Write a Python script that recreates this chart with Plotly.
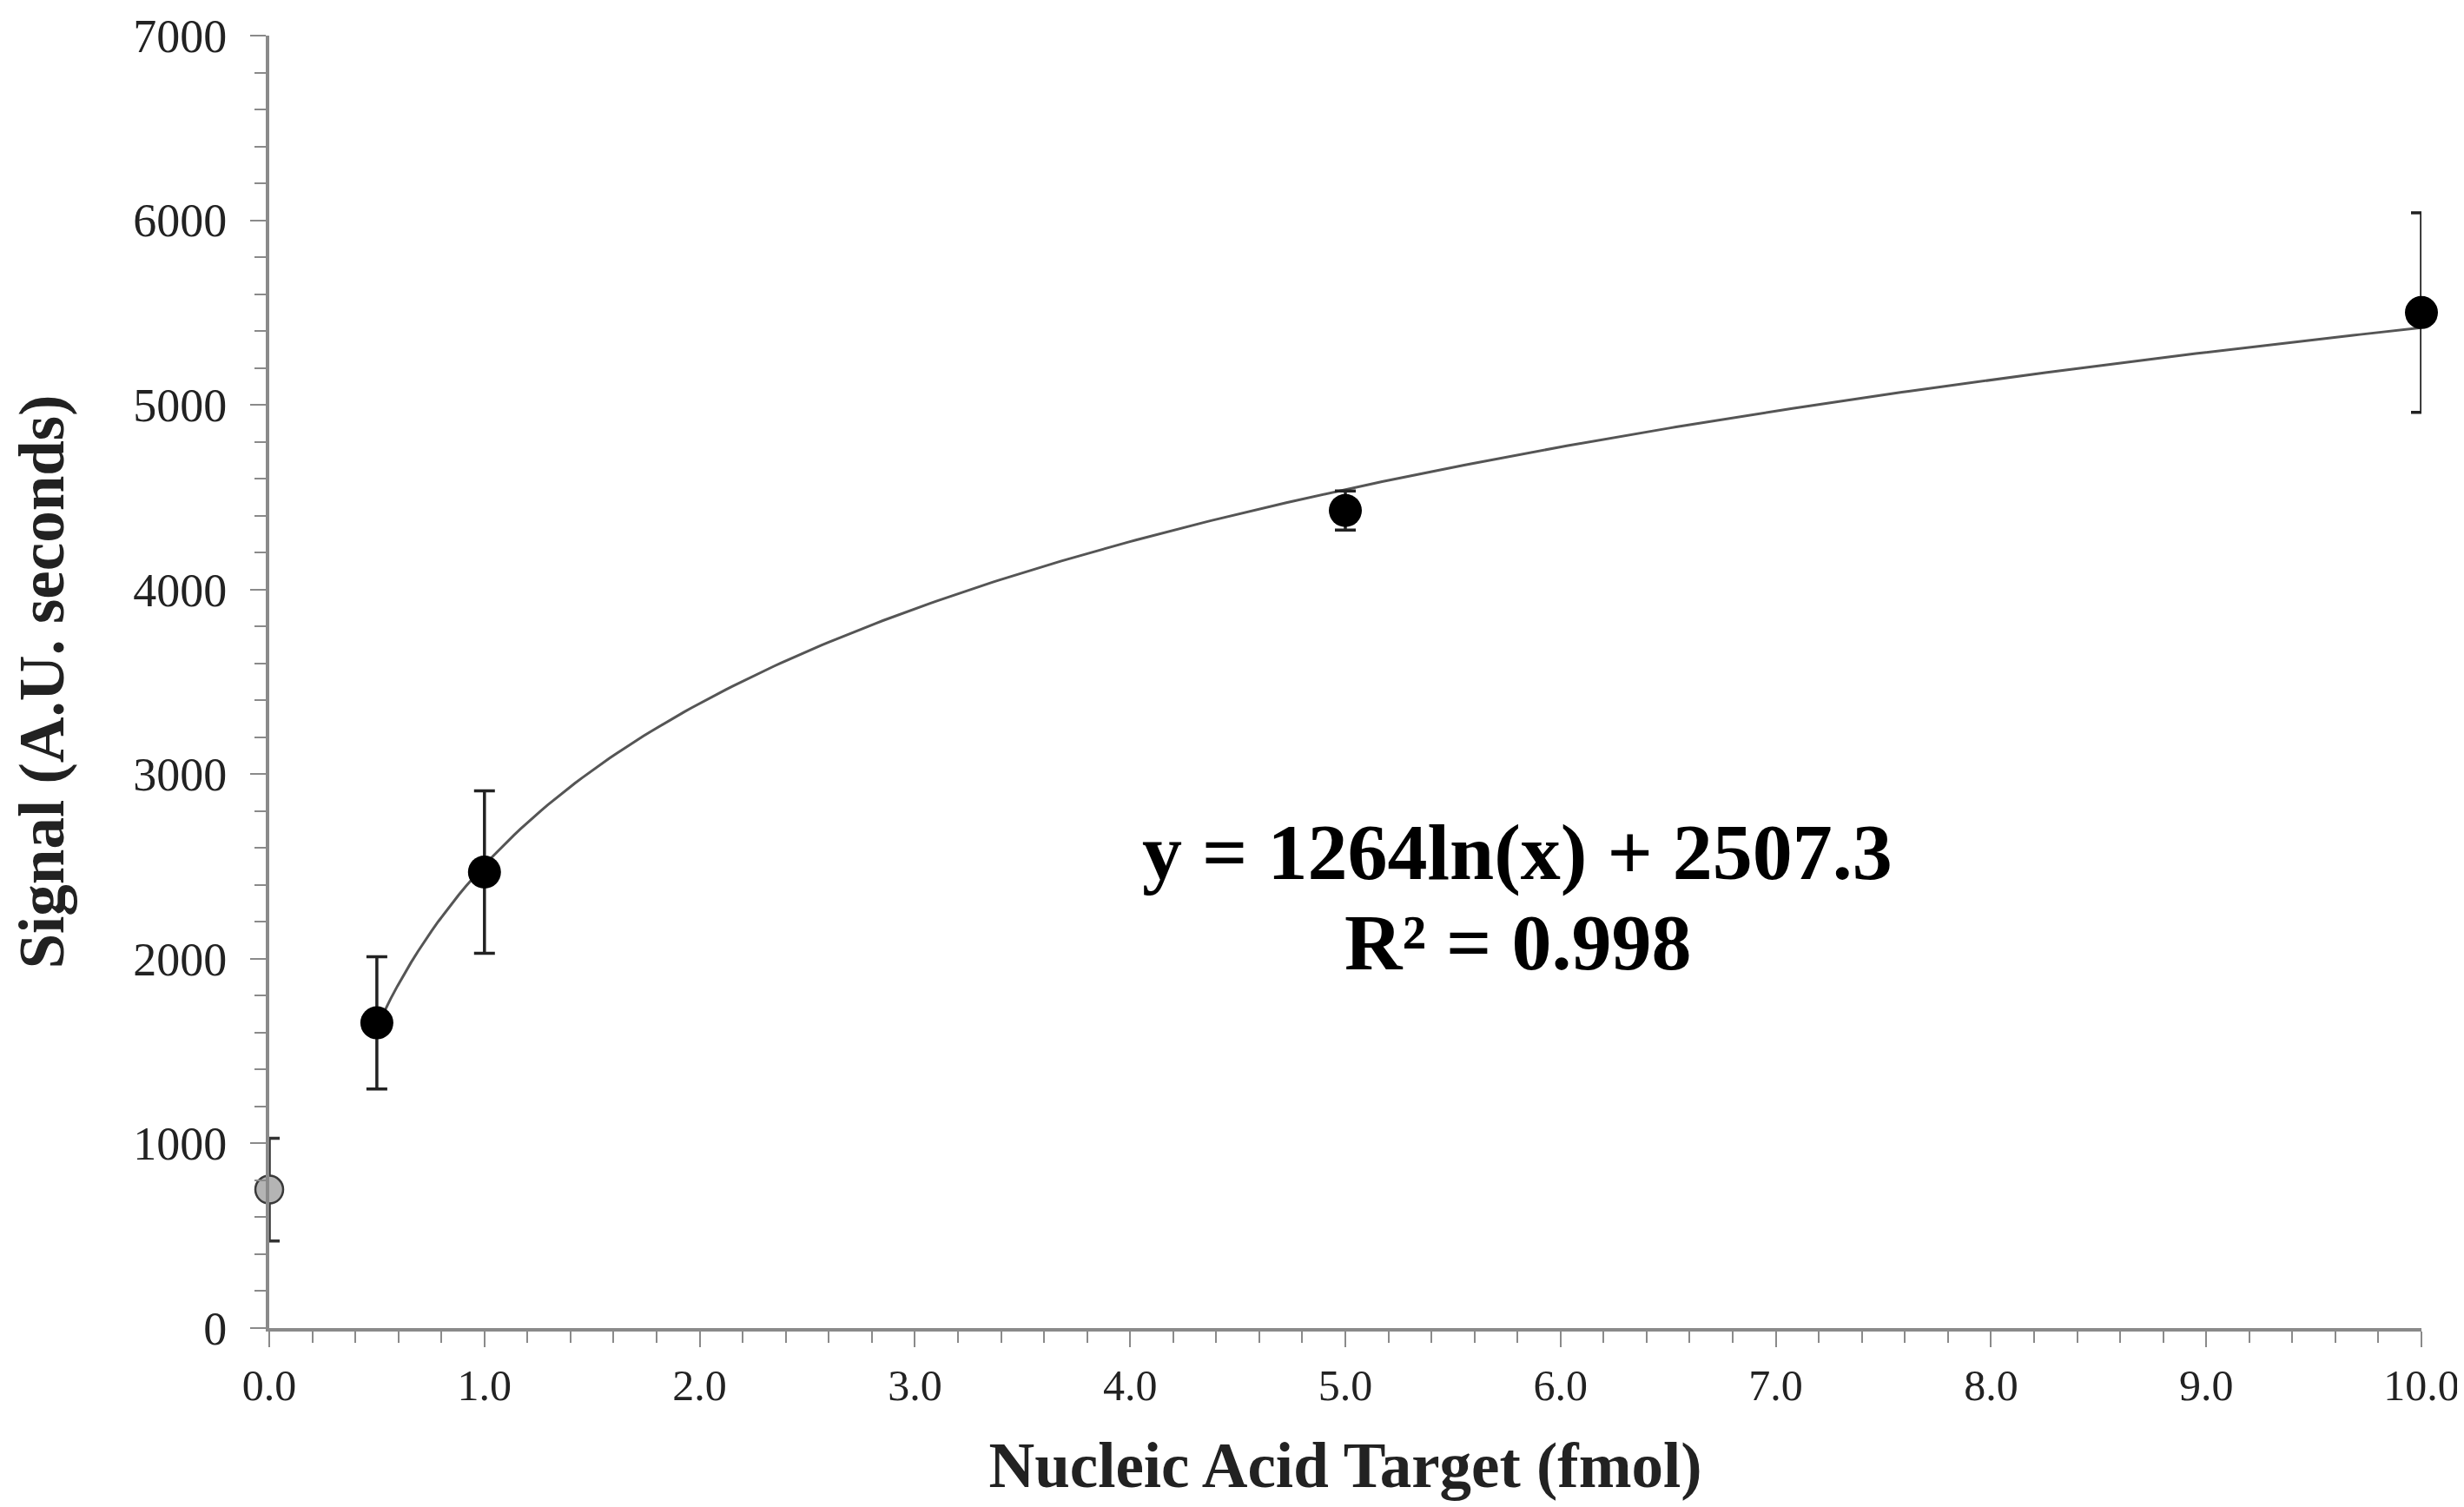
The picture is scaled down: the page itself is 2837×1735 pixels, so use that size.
import numpy as np
import plotly.graph_objects as go

# measured points (fmol vs signal)
blank_x = [0.0]
blank_y = [750]
blank_err = [278]

target_x = [0.5, 1.0, 5.0, 10.0]
target_y = [1653, 2470, 4428, 5500]
target_err = [358, 440, 106, 540]

# log fit shown on the chart
fit_a = 1264
fit_b = 2507.3
fit_r2 = 0.998

x_ticks = [0, 1, 2, 3, 4, 5, 6, 7, 8, 9, 10]
y_ticks = [0, 1000, 2000, 3000, 4000, 5000, 6000, 7000]

serif = 'Liberation Serif'
axis_col = '#8a8a8a'

fig = go.Figure()

# trend line y = a ln(x) + b
fit_x = np.linspace(0.5, 10, 300)
fit_y = fit_a * np.log(fit_x) + fit_b
fig.add_trace(go.Scatter(x=fit_x, y=fit_y, mode='lines',
                         line=dict(color='#555555', width=3),
                         hoverinfo='skip', showlegend=False))

fig.add_trace(go.Scatter(
    x=blank_x, y=blank_y, mode='markers', cliponaxis=False, showlegend=False,
    marker=dict(size=32, color='#b4b4b4', line=dict(color='#3a3a3a', width=2.5)),
    error_y=dict(type='data', array=blank_err, color='#333333', thickness=3.5, width=12)))

fig.add_trace(go.Scatter(
    x=target_x, y=target_y, mode='markers', cliponaxis=False, showlegend=False,
    marker=dict(size=38, color='black'),
    error_y=dict(type='data', array=target_err, color='#222222', thickness=3.5, width=12)))

eq_text = 'y = %dln(x) + %.1f' % (fit_a, fit_b)
r2_text = 'R² = %.3f' % fit_r2
fig.add_annotation(x=5.8, y=2580, text='<b>%s</b>' % eq_text, showarrow=False,
                   font=dict(family=serif, size=92, color='black'))
fig.add_annotation(x=5.8, y=2090, text='<b>%s</b>' % r2_text, showarrow=False,
                   font=dict(family=serif, size=92, color='black'))

fig.update_layout(
    width=2837, height=1735,
    margin=dict(l=302, r=57, t=33, b=214),
    plot_bgcolor='white', paper_bgcolor='white',
    font=dict(family=serif, color='#222222'),
)

fig.update_xaxes(
    range=[0, 10], tickvals=x_ticks, ticktext=['%.1f' % v for v in x_ticks],
    automargin=False,
    showgrid=False, zeroline=False, showline=True, linecolor=axis_col, linewidth=4,
    ticks='outside', ticklen=18, tickwidth=2, tickcolor=axis_col,
    minor=dict(dtick=0.2, ticks='outside', ticklen=13, tickwidth=2, tickcolor=axis_col),
    tickfont=dict(family=serif, size=50, color='#222222'), ticklabelstandoff=1,
    title=dict(text='<b>Nucleic Acid Target (fmol)</b>', standoff=40,
               font=dict(family=serif, size=73, color='#222222')),
)

fig.update_yaxes(
    range=[0, 7000], tickvals=y_ticks,
    automargin=False,
    showgrid=False, zeroline=False, showline=True, linecolor=axis_col, linewidth=4,
    ticks='outside', ticklen=18, tickwidth=2, tickcolor=axis_col,
    minor=dict(dtick=200, ticks='outside', ticklen=13, tickwidth=2, tickcolor=axis_col),
    tickfont=dict(family=serif, size=54, color='#222222'), ticklabelstandoff=16,
    title=dict(text='<b>Signal (A.U. seconds)</b>', standoff=60,
               font=dict(family=serif, size=73, color='#222222')),
)

fig.write_html('out.html')
